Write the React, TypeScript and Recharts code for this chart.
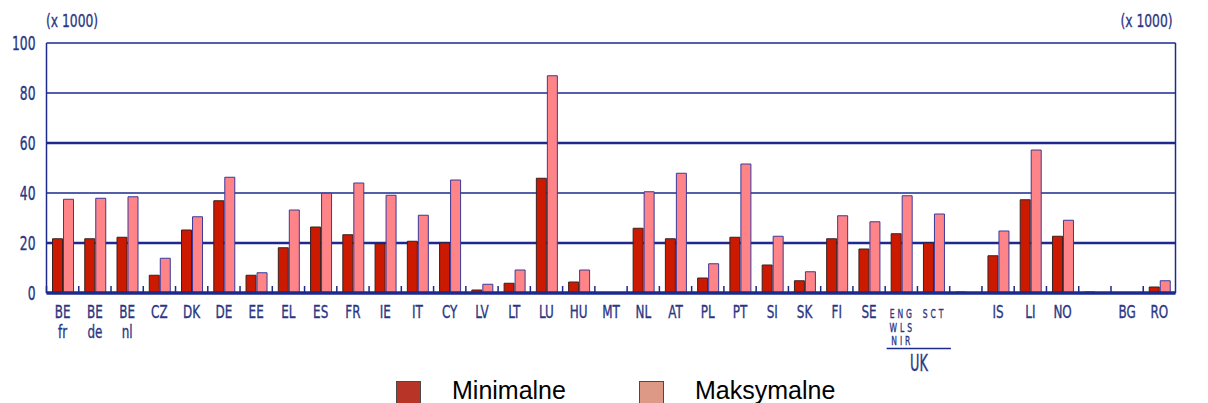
import React from 'react'
import { BarChart, Bar, XAxis, YAxis, CartesianGrid } from 'recharts'

// Countries (space = line break in the tick label); '' = empty slot
const categories = [
  'BE fr', 'BE de', 'BE nl', 'CZ', 'DK', 'DE', 'EE', 'EL', 'ES', 'FR', 'IE', 'IT',
  'CY', 'LV', 'LT', 'LU', 'HU', 'MT', 'NL', 'AT', 'PL', 'PT', 'SI', 'SK', 'FI',
  'SE', 'ENG WLS NIR', 'SCT', '', 'IS', 'LI', 'NO', '', 'BG', 'RO',
]

// values in thousands
const minValues = [
  21.7, 21.7, 22.3, 7.1, 25.2, 36.9, 7.1, 18.1, 26.4, 23.3, 19.7, 20.7,
  20, 1.2, 3.9, 45.9, 4.4, 0, 25.9, 21.7, 6, 22.3, 11.2, 4.9, 21.7,
  17.6, 23.7, 20, 0.4, 14.9, 37.3, 22.7, 0.4, 0, 2.4,
]
const maxValues = [
  37.5, 37.9, 38.5, 13.9, 30.5, 46.3, 8.1, 33.2, 39.9, 44, 39.1, 31.1,
  45.2, 3.5, 9.2, 86.9, 9.2, 0, 40.5, 47.9, 11.7, 51.6, 22.7, 8.5, 30.9,
  28.5, 38.9, 31.6, 0, 24.8, 57.2, 29.1, 0, 0, 4.9,
]

const yTicks = [0, 20, 40, 60, 80, 100]
const thickTicks = [20, 60]

const data = categories.map((name, i) => ({
  name,
  min: minValues[i],
  max: maxValues[i],
}))

const W = 1208
const H = 403
const TOP = 43
const LEFT = 46.5
const RIGHT = 32.5
const PLOT_H = 250
const SLOT = (W - LEFT - RIGHT) / categories.length

const NAVY = '#1b2a8c'
const TEXT = '#2a3684'
const FONT = "'DejaVu Sans Condensed', 'DejaVu Sans', sans-serif"

// condensed text: the original uses a narrow face
const NarrowText = ({ x, y, sx = 0.7, size = 20, anchor = 'middle', ls = 0, children }: any) => (
  <text
    transform={`translate(${x},${y}) scale(${sx},1)`}
    textAnchor={anchor}
    fill={TEXT}
    stroke={TEXT}
    strokeWidth={0.35}
    fontFamily={FONT}
    fontSize={size}
    letterSpacing={ls}
  >
    {children}
  </text>
)

const GridLine = (props: any) => {
  const { x1, x2, y1 } = props
  const v = Math.round((100 * (1 - (y1 - TOP) / PLOT_H)) / 20) * 20
  const w = thickTicks.includes(v) ? 2.6 : 1.4
  return <line x1={x1} x2={x2} y1={y1} y2={y1} stroke={NAVY} strokeWidth={w} />
}

const LeftTick = (props: any) => (
  <NarrowText x={props.x} y={props.y + 6.5} anchor="end" size={19} sx={0.72}>
    {props.payload.value}
  </NarrowText>
)

const RightTick = (props: any) => (
  <NarrowText x={props.x} y={props.y + 6.5} anchor="start" size={19} sx={0.72}>
    {props.payload.value}
  </NarrowText>
)

const XTick = (props: any) => {
  const { x, y, payload, index } = props
  const label: string = payload.value || ''
  const lines = label ? label.split(' ') : []
  const small = label === 'SCT' || label === 'ENG WLS NIR'
  return (
    <g>
      <line x1={x - SLOT / 2} x2={x - SLOT / 2} y1={y} y2={y - 7} stroke={NAVY} strokeWidth={1.5} />
      {lines.map((l, k) =>
        small ? (
          <NarrowText key={k} x={x + 1} y={y + 25 + k * 13.5} size={12.8} sx={0.66} ls={4.5}>
            {l}
          </NarrowText>
        ) : (
          <NarrowText key={k} x={x} y={y + 25.3 + k * 19.5} size={18} sx={0.74}>
            {l}
          </NarrowText>
        ),
      )}
      {index === categories.indexOf('ENG WLS NIR') && (
        <g>
          <line x1={x - 14.7} x2={x + 49.6} y1={348.5} y2={348.5} stroke={NAVY} strokeWidth={1.5} />
          <NarrowText x={x + 17.6} y={370.5} size={23} sx={0.62}>
            UK
          </NarrowText>
        </g>
      )}
    </g>
  )
}

const unitStyle: React.CSSProperties = {
  position: 'absolute',
  top: 10,
  color: TEXT,
  fontFamily: FONT,
  fontSize: 18,
  lineHeight: '22px',
  whiteSpace: 'nowrap',
  WebkitTextStroke: '0.3px ' + TEXT,
}

const legendBox: React.CSSProperties = {
  position: 'absolute',
  top: 381,
  width: 25,
  height: 25,
  border: '1px solid #4a4a4a',
  boxSizing: 'border-box',
}

const legendText: React.CSSProperties = {
  position: 'absolute',
  top: 375,
  fontFamily: "'Liberation Sans', Arial, sans-serif",
  fontSize: 25,
  color: '#000',
  lineHeight: '30px',
  whiteSpace: 'nowrap',
}

export default function App() {
  return (
    <div style={{ position: 'absolute', left: 0, top: 0, width: W, height: H, background: '#fff', overflow: 'hidden' }}>
      <BarChart
        width={W}
        height={H}
        data={data}
        margin={{ top: TOP, right: 0, bottom: 0, left: 0 }}
        barSize={10}
        barGap={1}
      >
        <CartesianGrid yAxisId="left" vertical={false} horizontal={GridLine} />
        <XAxis
          dataKey="name"
          height={H - TOP - PLOT_H}
          interval={0}
          tickLine={false}
          tickSize={0}
          tickMargin={0}
          axisLine={{ stroke: NAVY, strokeWidth: 3.5 }}
          tick={XTick}
        />
        <YAxis
          yAxisId="left"
          width={LEFT}
          domain={[0, 100]}
          ticks={yTicks}
          tickLine={false}
          tickSize={0}
          tickMargin={11}
          axisLine={{ stroke: NAVY, strokeWidth: 1.5 }}
          tick={LeftTick}
        />
        <YAxis
          yAxisId="right"
          orientation="right"
          width={RIGHT}
          domain={[0, 100]}
          ticks={yTicks}
          tickLine={false}
          tickSize={0}
          tickMargin={8}
          axisLine={{ stroke: NAVY, strokeWidth: 1.5 }}
          tick={RightTick}
        />
        <Bar yAxisId="left" dataKey="min" name="Minimalne" fill="#cc1a00" stroke="#3a2020" strokeWidth={1} isAnimationActive={false} />
        <Bar yAxisId="left" dataKey="max" name="Maksymalne" fill="#ff8488" stroke="#3a3a9c" strokeWidth={1} isAnimationActive={false} />
      </BarChart>

      <div style={{ ...unitStyle, left: 46, transform: 'scaleX(0.76)', transformOrigin: 'left' }}>(x 1000)</div>
      <div style={{ ...unitStyle, right: W - 1173, transform: 'scaleX(0.76)', transformOrigin: 'right' }}>(x 1000)</div>

      <div style={{ ...legendBox, left: 396, background: '#b83426' }} />
      <div style={{ ...legendText, left: 452 }}>Minimalne</div>
      <div style={{ ...legendBox, left: 639, background: '#dd9886' }} />
      <div style={{ ...legendText, left: 695 }}>Maksymalne</div>
    </div>
  )
}
